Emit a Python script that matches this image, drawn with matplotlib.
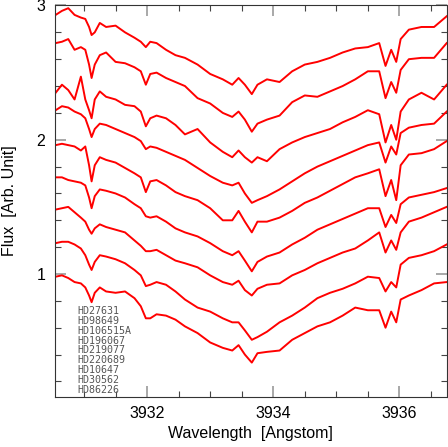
import matplotlib
matplotlib.use("Agg")
import matplotlib.pyplot as plt
from matplotlib.ticker import MultipleLocator

# wavelength grid (Angstrom) shared by all spectra
wave = [3930.55, 3930.65, 3930.75, 3930.85, 3930.95, 3931.02, 3931.08, 3931.12,
        3931.17, 3931.25, 3931.35, 3931.50, 3931.65, 3931.80, 3931.90, 3931.98,
        3932.05, 3932.15, 3932.30, 3932.45, 3932.60, 3932.80, 3933.00, 3933.20,
        3933.35, 3933.45, 3933.55, 3933.66, 3933.75, 3933.90, 3934.10, 3934.30,
        3934.50, 3934.70, 3934.90, 3935.10, 3935.30, 3935.50, 3935.68, 3935.78,
        3935.87, 3935.95, 3936.02, 3936.15, 3936.35, 3936.55, 3936.75]

# offset fluxes, top to bottom
flux1 = [2.93, 2.96, 2.98, 2.93, 2.91, 2.90, 2.84, 2.78, 2.80, 2.87, 2.84, 2.85,
         2.80, 2.76, 2.73, 2.69, 2.73, 2.72, 2.67, 2.63, 2.61, 2.56, 2.49, 2.45,
         2.41, 2.46, 2.41, 2.34, 2.41, 2.45, 2.43, 2.51, 2.56, 2.58, 2.61, 2.65,
         2.68, 2.69, 2.72, 2.55, 2.67, 2.58, 2.75, 2.82, 2.84, 2.84, 2.92]
flux2 = [2.72, 2.73, 2.75, 2.67, 2.69, 2.67, 2.56, 2.46, 2.56, 2.63, 2.65, 2.58,
         2.57, 2.54, 2.51, 2.41, 2.49, 2.50, 2.46, 2.43, 2.40, 2.31, 2.27, 2.20,
         2.17, 2.21, 2.15, 2.06, 2.12, 2.15, 2.18, 2.28, 2.33, 2.32, 2.36, 2.40,
         2.45, 2.51, 2.51, 2.31, 2.43, 2.35, 2.52, 2.60, 2.61, 2.61, 2.72]
flux3 = [2.35, 2.41, 2.37, 2.30, 2.47, 2.30, 2.22, 2.16, 2.30, 2.36, 2.32, 2.30,
         2.26, 2.25, 2.21, 2.10, 2.16, 2.18, 2.16, 2.11, 2.04, 2.08, 1.98, 1.91,
         1.87, 1.92, 1.87, 1.83, 1.87, 1.84, 1.93, 1.98, 2.02, 2.05, 2.08, 2.13,
         2.17, 2.22, 2.19, 1.98, 2.11, 2.00, 2.21, 2.30, 2.35, 2.30, 2.41]
flux4 = [2.22, 2.25, 2.24, 2.21, 2.19, 2.16, 2.08, 2.02, 2.08, 2.12, 2.11, 2.08,
         2.05, 2.02, 1.99, 1.93, 1.95, 1.94, 1.91, 1.88, 1.85, 1.79, 1.73, 1.68,
         1.66, 1.68, 1.60, 1.53, 1.55, 1.58, 1.63, 1.69, 1.75, 1.80, 1.84, 1.88,
         1.92, 1.96, 1.98, 1.83, 1.95, 1.89, 2.05, 2.09, 2.11, 2.12, 2.21]
flux5 = [1.96, 1.97, 1.96, 1.95, 1.92, 1.95, 1.81, 1.69, 1.81, 1.87, 1.85, 1.83,
         1.79, 1.75, 1.72, 1.61, 1.69, 1.70, 1.66, 1.61, 1.58, 1.55, 1.49, 1.40,
         1.40, 1.47, 1.39, 1.31, 1.39, 1.39, 1.42, 1.47, 1.53, 1.57, 1.62, 1.67,
         1.72, 1.75, 1.78, 1.58, 1.70, 1.55, 1.81, 1.89, 1.90, 1.93, 1.99]
flux6 = [1.72, 1.72, 1.70, 1.69, 1.68, 1.66, 1.57, 1.49, 1.58, 1.63, 1.62, 1.60,
         1.57, 1.52, 1.49, 1.43, 1.42, 1.43, 1.39, 1.34, 1.31, 1.28, 1.23, 1.17,
         1.14, 1.17, 1.10, 1.02, 1.09, 1.13, 1.16, 1.22, 1.27, 1.33, 1.37, 1.41,
         1.45, 1.49, 1.49, 1.35, 1.44, 1.38, 1.52, 1.57, 1.59, 1.61, 1.64]
flux7 = [1.48, 1.49, 1.50, 1.46, 1.42, 1.39, 1.33, 1.30, 1.34, 1.37, 1.35, 1.33,
         1.31, 1.25, 1.21, 1.17, 1.17, 1.18, 1.14, 1.10, 1.08, 1.05, 0.99, 0.94,
         0.92, 0.95, 0.88, 0.84, 0.89, 0.92, 0.93, 0.99, 1.03, 1.08, 1.12, 1.16,
         1.19, 1.25, 1.31, 1.16, 1.25, 1.18, 1.31, 1.39, 1.42, 1.46, 1.50]
flux8 = [1.23, 1.24, 1.24, 1.22, 1.19, 1.14, 1.07, 1.03, 1.09, 1.14, 1.13, 1.11,
         1.08, 1.03, 0.99, 0.91, 0.92, 0.94, 0.92, 0.87, 0.81, 0.75, 0.72, 0.67,
         0.64, 0.64, 0.58, 0.51, 0.53, 0.57, 0.64, 0.69, 0.75, 0.82, 0.86, 0.89,
         0.93, 0.98, 0.97, 0.87, 0.94, 0.90, 1.07, 1.12, 1.14, 1.17, 1.22]
flux9 = [0.98, 0.99, 0.97, 0.94, 0.93, 0.90, 0.84, 0.79, 0.86, 0.90, 0.87, 0.86,
         0.87, 0.82, 0.76, 0.67, 0.67, 0.70, 0.69, 0.66, 0.61, 0.56, 0.49, 0.45,
         0.43, 0.47, 0.40, 0.34, 0.41, 0.42, 0.43, 0.51, 0.56, 0.61, 0.64, 0.69,
         0.75, 0.73, 0.73, 0.60, 0.72, 0.64, 0.81, 0.84, 0.88, 0.93, 0.94]

stars = ["HD27631", "HD98649", "HD106515A", "HD196067", "HD219077",
         "HD220689", "HD10647", "HD30562", "HD86226"]

fig = plt.figure(figsize=(4.48, 4.47), dpi=100)
ax = fig.add_axes([0.1228, 0.1125, 0.8743, 0.8752])

for f in [flux1, flux2, flux3, flux4, flux5, flux6, flux7, flux8, flux9]:
    ax.plot(wave, f, color="red", lw=1.4)

ax.set_xlim(3930.54, 3936.75)
ax.set_ylim(0.086, 3.0)

# ticks: major every 2 A, minor 0.5; flux major 1, minor 0.2
ax.xaxis.set_major_locator(MultipleLocator(2))
ax.xaxis.set_minor_locator(MultipleLocator(0.5))
ax.xaxis.set_major_formatter(plt.FuncFormatter(lambda v, p: "%d" % v))
ax.yaxis.set_major_locator(MultipleLocator(1))
ax.yaxis.set_minor_locator(MultipleLocator(0.2))
ax.yaxis.set_major_formatter(plt.FuncFormatter(lambda v, p: "%d" % v))

ax.tick_params(which="both", direction="in", top=True, right=True,
               labelsize=11.5, labelfontfamily="Liberation Sans")
ax.tick_params(which="major", length=8, width=1.2, color="#999999", pad=7)
ax.tick_params(which="minor", length=4, width=0.8, color="#444444")
for s in ax.spines.values():
    s.set_color("#333333")
    s.set_linewidth(0.8)

ax.set_xlabel("Wavelength  [Angstom]", fontsize=11.5, family="Liberation Sans", labelpad=3)
ax.set_ylabel("Flux  [Arb. Unit]", fontsize=11.5, family="Liberation Sans", labelpad=14)

# star names stacked in the lower left corner
for i, name in enumerate(stars):
    ax.text(0.056, 0.219 - i * 0.0252, name, transform=ax.transAxes, fontsize=7.2,
            family="DejaVu Sans Mono", color="#555555", va="center", ha="left")

fig.savefig("out.png", dpi=100)
